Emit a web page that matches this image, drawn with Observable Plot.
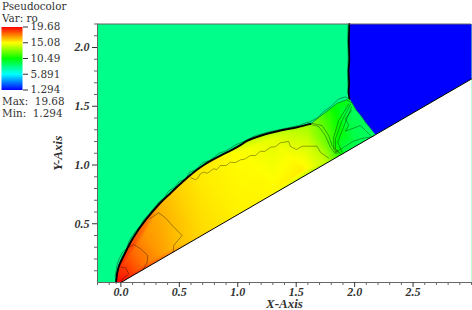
<!DOCTYPE html>
<html><head><meta charset="utf-8">
<script src="https://cdn.jsdelivr.net/npm/d3@7"></script>
<script src="https://cdn.jsdelivr.net/npm/@observablehq/plot@0.6"></script>
<style>
html,body{margin:0;padding:0;background:#fff;overflow:hidden}
#wrap{position:relative;width:472px;height:310px}
#wrap svg{position:absolute;background:transparent;overflow:visible}
.t{position:absolute;left:2px;font:10.4px/12px "DejaVu Serif",serif;color:#333;white-space:pre}
</style></head><body>
<div id="wrap"></div>
<script>
const varName = "ro";
const vMin = 1.294, vMax = 19.68;
const legendTicks = [1.294, 5.891, 10.49, 15.08, 19.68];
const legendLabels = ["1.294", "5.891", "10.49", "15.08", "19.68"];
const colorStops = ["#0000ff", "#00ffff", "#00ff00", "#ffff00", "#ff0000"];
const xMajor = [0, 0.5, 1, 1.5, 2, 2.5];
const yMajor = [0.5, 1, 1.5, 2];
const xMinor = [-0.2,-0.1,0.1,0.2,0.3,0.4,0.6,0.7,0.8,0.9,1.1,1.2,1.3,1.4,1.6,1.7,1.8,1.9,2.1,2.2,2.3,2.4,2.6,2.7,2.8,2.9,3];
const yMinor = [0.1,0.2,0.3,0.4,0.6,0.7,0.8,0.9,1.1,1.2,1.3,1.4,1.6,1.7,1.8,1.9,2.1,2.2];
const freeStream = 8.0, postVertical = 1.294;

// field samples: x, y, density
const sampleX = [-0.1,0,0.03,0.05,0.1,0.1,0.2,0.2,0.35,0.35,0.5,0.5,0.7,0.7,1,1,1.3,1.3,1.55,1.6,1.6,1.75,1.75,1.75,1.85,1.85,1.85,1.9,1.95,1.95,2,2,2.2,0.5,1.3,1.95,2.25,1,2,2.1];
const sampleY = [0,0,0.06,0.15,0.1,0.25,0.15,0.4,0.25,0.55,0.32,0.75,0.45,0.9,0.6,1.1,0.77,1.22,0.95,1.2,1.32,1.03,1.2,1.33,1.1,1.3,1.5,1.15,1.35,1.53,1.2,1.45,1.27,0.95,1.35,1.6,1.25,0.5,1,1.4];
const sampleV = [19.6,19.6,19,18.5,18.4,17.8,17.6,17,16.8,16.5,16.2,15.9,15.7,15.4,15.3,15.1,15.2,14.6,15.4,14.2,13.5,14,12.5,12,11.5,10.8,10.2,9.5,9.3,10,9.2,8.8,8.5,15.8,13,10,8.5,15.5,9,8.8];

const bowX = [-0.04,-0.04,-0.02,0.025,0.108,0.21,0.33,0.424,0.51,0.595,0.709,0.852,0.938,1.023,1.08,1.222,1.365,1.508,1.622];
const bowY = [0,0.02,0.13,0.23,0.385,0.53,0.67,0.76,0.84,0.915,1.0,1.08,1.123,1.17,1.205,1.257,1.294,1.322,1.35];
const topX = [1.622,1.733,1.861,1.955];
const topY = [1.35,1.438,1.534,1.566];
const stemX = [1.955,1.95,1.955,1.948,1.953,1.948,1.955];
const stemY = [2.2,2.05,1.9,1.8,1.7,1.62,1.566];
const reflX = [1.955,2.02,2.09,2.178];
const reflY = [1.566,1.46,1.37,1.257];
const wedgeX = [0,3,3];
const wedgeY = [0,1.732,0];

// thin contour lines
const contours = [
 [[0,0.13],[0.04,0.125],[0.068,0.074],[0.025,0.04],[0.003,0.017]],
 [[0.068,0.3],[0.11,0.323],[0.168,0.287],[0.23,0.23],[0.225,0.173],[0.19,0.11]],
 [[0.247,0.542],[0.324,0.593],[0.382,0.55],[0.439,0.485],[0.524,0.4],[0.487,0.357],[0.453,0.315],[0.447,0.258]],
 [[0.6,0.89],[0.64,0.875],[0.66,0.89],[0.68,0.925],[0.709,0.939],[0.74,0.93],[0.795,0.968],[0.82,0.96],[0.852,0.996],[0.9,0.995],[0.938,1.024],[0.98,1.02],[1.023,1.044],[1.06,1.05],[1.109,1.081],[1.15,1.08],[1.194,1.117],[1.23,1.115],[1.28,1.151],[1.32,1.155],[1.365,1.189],[1.436,1.2],[1.451,1.157],[1.502,1.132],[1.551,1.16],[1.679,1.16],[1.707,1.109],[1.778,1.058]],
 [[1.607,1.35],[1.693,1.328],[1.75,1.25],[1.793,1.151],[1.836,1.095]],
 [[1.636,1.356],[1.722,1.336],[1.778,1.251],[1.807,1.166],[1.864,1.1]],
 [[1.95,1.52],[1.864,1.379],[1.821,1.237],[1.821,1.138],[1.85,1.095]],
 [[1.964,1.515],[1.893,1.379],[1.836,1.223],[1.836,1.138],[1.879,1.095]],
 [[1.973,1.492],[1.921,1.364],[1.855,1.194],[1.893,1.109]],
 [[1.973,1.464],[1.921,1.393],[1.95,1.336],[1.921,1.288],[2.05,1.336],[2.135,1.251]],
 [[1.836,1.109],[1.907,1.151],[1.992,1.203],[2.05,1.223],[2.16,1.243]]
];
// fuzz of contour lines bunched against the shock front
const fuzz = [
 [[-0.05,0.05],[-0.03,0.16],[-0.015,0.2],[0.015,0.26],[0.05,0.29],[0.07,0.35],[0.1,0.4],[0.13,0.44],[0.17,0.49],[0.2,0.54],[0.24,0.58],[0.28,0.63],[0.32,0.68],[0.37,0.72],[0.41,0.78],[0.46,0.81],[0.5,0.86],[0.55,0.88],[0.59,0.94],[0.64,0.96],[0.7,1.02],[0.76,1.04],[0.84,1.1],[0.9,1.12],[0.98,1.17],[1.05,1.2],[1.15,1.25],[1.28,1.285],[1.4,1.31],[1.52,1.335],[1.6,1.365]],
 [[1.6,1.36],[1.68,1.4],[1.74,1.46],[1.8,1.5],[1.86,1.56],[1.92,1.58],[1.96,1.56]],
 [[1.62,1.345],[1.7,1.41],[1.78,1.47],[1.85,1.525],[1.93,1.555],[1.975,1.53]],
 [[1.975,1.54],[2.01,1.47],[2.06,1.42],[2.1,1.35],[2.15,1.3]],
 [[1.945,1.6],[1.94,1.75],[1.945,1.92],[1.94,2.08],[1.945,2.2]]
];
const lineRows = list => list.flatMap((c, i) => c.map(([x, y]) => ({x, y, i})));

const zip = (xs, ys) => xs.map((x, i) => ({x, y: ys[i]}));
const front = [...zip(bowX, bowY), ...zip(topX, topY).slice(1)];
const greenPoly = [{x:-0.2,y:0},{x:-0.2,y:2.2},...zip(stemX, stemY),...front.slice().reverse()];
const bluePoly = [{x:1.955,y:2.2},{x:3,y:2.2},{x:3,y:1.732},...zip(reflX, reflY).reverse(),...zip(stemX, stemY).reverse()];
const samples = sampleX.map((x, i) => ({x, y: sampleY[i], v: sampleV[i]}));

const color = {type:"linear", domain:legendTicks, range:colorStops, interpolate:"rgb"};
const axisStyle = {stroke:"#666", strokeWidth:1};
const tickFont = {fontFamily:"'Liberation Serif',serif", fontWeight:"bold", fontStyle:"italic", fontSize:12};
const labelFont = {fontFamily:"'Liberation Serif',serif", fontWeight:"bold", fontStyle:"italic", fontSize:13};

const chart = Plot.plot({
  width:472, height:310,
  marginLeft:97, marginRight:1, marginTop:23.5, marginBottom:28,
  x:{domain:[-0.2,3], label:null},
  y:{domain:[0,2.2], label:null},
  color,
  style:{background:"transparent"},
  marks:[
    Plot.raster(samples,{x:"x",y:"y",fill:"v",interpolate:"barycentric",pixelSize:1}),
    Plot.line(greenPoly,{x:"x",y:"y",fill:()=>freeStream,stroke:null}),
    Plot.line(bluePoly,{x:"x",y:"y",fill:()=>postVertical,stroke:null}),
    Plot.line(zip(wedgeX,wedgeY),{x:"x",y:"y",fill:"#fff",stroke:null}),
    Plot.line(lineRows(contours),{x:"x",y:"y",z:"i",stroke:"#000",strokeWidth:0.6,strokeOpacity:0.6}),
    Plot.line(lineRows(fuzz),{x:"x",y:"y",z:"i",stroke:"#063",strokeWidth:0.9,strokeOpacity:0.7}),
    Plot.line(zip(bowX,bowY),{x:"x",y:"y",stroke:"#000",strokeWidth:2,curve:"catmull-rom"}),
    Plot.line(zip(stemX,stemY),{x:"x",y:"y",stroke:"#000",strokeWidth:1.8}),
    Plot.line(zip(wedgeX.slice(0,2),wedgeY.slice(0,2)),{x:"x",y:"y",stroke:"#000",strokeWidth:1}),
    Plot.ruleX([-0.2],axisStyle),
    Plot.ruleY([0],axisStyle),
    Plot.ruleY([2.2],axisStyle),
    Plot.axisX({ticks:xMajor,tickSize:5,tickPadding:0,tickFormat:d3.format(".1f"),...tickFont,color:"#333"}),
    Plot.axisX({ticks:xMinor,tickSize:3,tickFormat:null,text:null,label:null,color:"#666"}),
    Plot.axisY({ticks:yMajor,tickSize:5,tickPadding:3,tickFormat:d3.format(".1f"),...tickFont,color:"#333"}),
    Plot.axisY({ticks:yMinor,tickSize:3,tickFormat:null,text:null,label:null,color:"#666"}),
    Plot.axisX({ticks:[],label:"X-Axis",labelAnchor:"center",labelArrow:"none",labelOffset:25.5,...labelFont,color:"#333"}),
    Plot.axisY({ticks:[],label:"Y-Axis",labelAnchor:"center",labelArrow:"none",labelOffset:45,...labelFont,color:"#333"})
  ]
});
const legend = Plot.plot({
  width:62, height:66,
  marginLeft:1, marginRight:40, marginTop:1.5, marginBottom:1.5,
  x:{domain:[0,1],axis:null},
  y:{domain:[vMin,vMax],label:null},
  color,
  style:{background:"transparent"},
  marks:[
    Plot.raster({x1:0,x2:1,y1:vMin,y2:vMax,width:1,height:63,fill:(x,y)=>y}),
    Plot.axisY({anchor:"right",ticks:legendTicks,tickSize:5,tickPadding:3,tickFormat:(d,i)=>legendLabels[i],fontFamily:"'DejaVu Serif',serif",fontSize:10.4,color:"#333",label:null})
  ]
});
const wrap = document.getElementById("wrap");
chart.style.left = "0"; chart.style.top = "0";
legend.style.left = "0"; legend.style.top = "25px";
wrap.append(chart, legend);
[["Pseudocolor",0],["Var: "+varName,12],["Max:  "+legendLabels[4],95],["Min:  "+legendLabels[0],107]].forEach(([s,y])=>{
  const d=document.createElement("div");d.className="t";d.style.top=y+"px";d.textContent=s;wrap.append(d);
});
</script></body></html>
